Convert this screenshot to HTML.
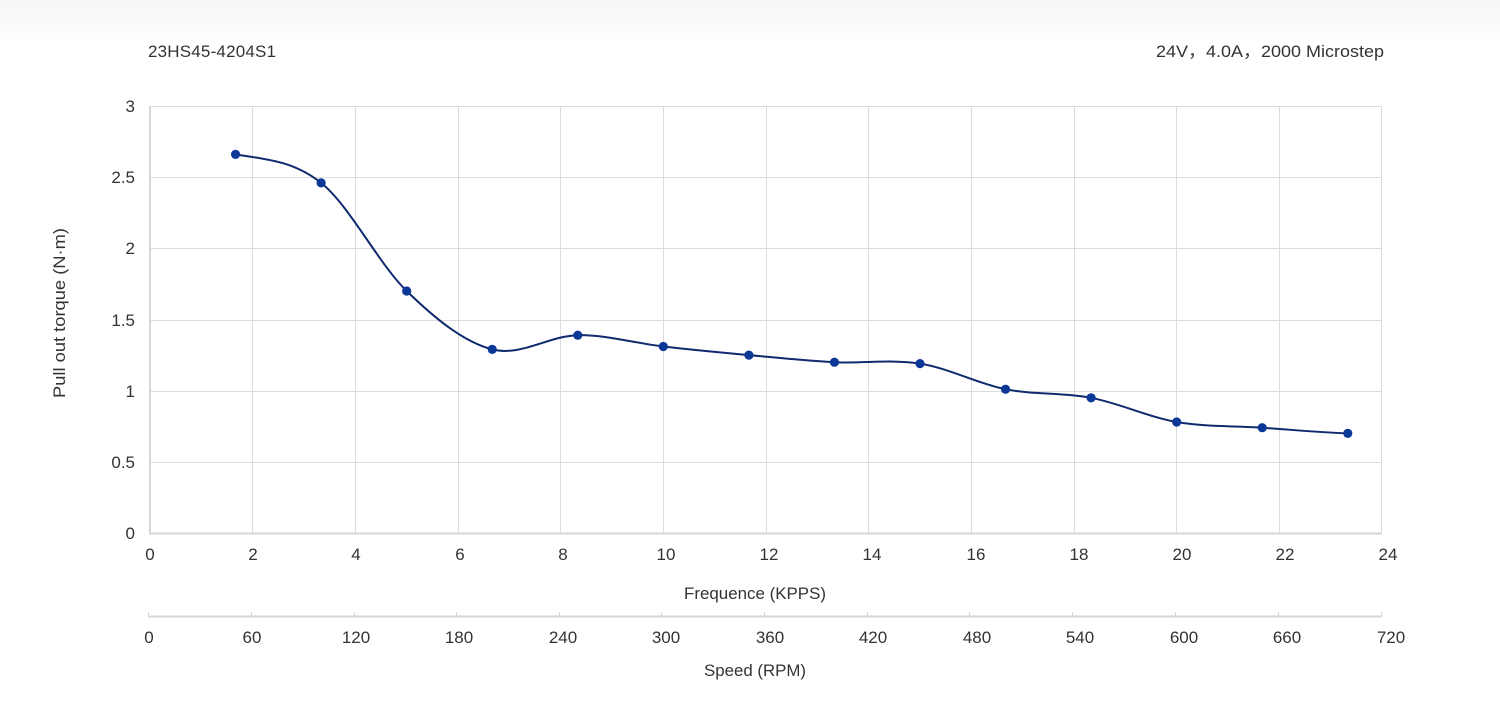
<!DOCTYPE html>
<html><head><meta charset="utf-8"><style>
html,body{margin:0;padding:0;background:#fff;}
body{width:1500px;height:707px;overflow:hidden;}
svg{display:block;font-family:"Liberation Sans","Noto Sans CJK SC",sans-serif;}
</style></head><body>
<svg width="1500" height="707" viewBox="0 0 1500 707" xmlns="http://www.w3.org/2000/svg">
<defs><linearGradient id="tb" x1="0" y1="0" x2="0" y2="1">
<stop offset="0" stop-color="#f6f6f6"/><stop offset="0.6" stop-color="#fafafa"/><stop offset="1" stop-color="#ffffff"/></linearGradient></defs>
<rect x="0" y="0" width="1500" height="38" fill="url(#tb)"/>
<g fill="#333" font-size="17">
<text x="148" y="57" textLength="128" lengthAdjust="spacing">23HS45-4204S1</text>
<text x="1156" y="57" textLength="228" lengthAdjust="spacingAndGlyphs">24V，4.0A，2000 Microstep</text>
</g>
<!-- grid -->
<g stroke="#dcdcdc" stroke-width="1" fill="none">
<line x1="150" y1="106.5" x2="1382" y2="106.5"/>
<line x1="150" y1="177.5" x2="1382" y2="177.5"/>
<line x1="150" y1="248.5" x2="1382" y2="248.5"/>
<line x1="150" y1="320.5" x2="1382" y2="320.5"/>
<line x1="150" y1="391.5" x2="1382" y2="391.5"/>
<line x1="150" y1="462.5" x2="1382" y2="462.5"/>
<line x1="252.5" y1="106" x2="252.5" y2="534"/>
<line x1="355.5" y1="106" x2="355.5" y2="534"/>
<line x1="458.5" y1="106" x2="458.5" y2="534"/>
<line x1="560.5" y1="106" x2="560.5" y2="534"/>
<line x1="663.5" y1="106" x2="663.5" y2="534"/>
<line x1="766.5" y1="106" x2="766.5" y2="534"/>
<line x1="868.5" y1="106" x2="868.5" y2="534"/>
<line x1="971.5" y1="106" x2="971.5" y2="534"/>
<line x1="1074.5" y1="106" x2="1074.5" y2="534"/>
<line x1="1176.5" y1="106" x2="1176.5" y2="534"/>
<line x1="1279.5" y1="106" x2="1279.5" y2="534"/>
<line x1="1381.5" y1="106" x2="1381.5" y2="534"/>
</g>
<g stroke="#d6d6d6" stroke-width="2" fill="none">
<line x1="150" y1="106" x2="150" y2="534"/>
<line x1="149" y1="533.5" x2="1382" y2="533.5"/>
<line x1="148" y1="616.5" x2="1382" y2="616.5"/>
</g>
<g stroke="#d6d6d6" stroke-width="1">
<line x1="148.5" y1="612" x2="148.5" y2="617"/>
<line x1="251.5" y1="612" x2="251.5" y2="617"/>
<line x1="354.5" y1="612" x2="354.5" y2="617"/>
<line x1="456.5" y1="612" x2="456.5" y2="617"/>
<line x1="559.5" y1="612" x2="559.5" y2="617"/>
<line x1="661.5" y1="612" x2="661.5" y2="617"/>
<line x1="764.5" y1="612" x2="764.5" y2="617"/>
<line x1="867.5" y1="612" x2="867.5" y2="617"/>
<line x1="969.5" y1="612" x2="969.5" y2="617"/>
<line x1="1072.5" y1="612" x2="1072.5" y2="617"/>
<line x1="1175.5" y1="612" x2="1175.5" y2="617"/>
<line x1="1278.5" y1="612" x2="1278.5" y2="617"/>
<line x1="1381.5" y1="612" x2="1381.5" y2="617"/>
</g>
<!-- y labels -->
<g fill="#333" font-size="17" text-anchor="end">
<text x="135" y="112">3</text>
<text x="135" y="183">2.5</text>
<text x="135" y="254">2</text>
<text x="135" y="326">1.5</text>
<text x="135" y="397">1</text>
<text x="135" y="468">0.5</text>
<text x="135" y="539">0</text>
</g>
<text transform="translate(65,313) rotate(-90)" fill="#333" font-size="17" text-anchor="middle" textLength="170" lengthAdjust="spacingAndGlyphs">Pull out torque (N·m)</text>
<!-- x labels -->
<g fill="#333" font-size="17" text-anchor="middle">
<text x="150" y="560">0</text>
<text x="253" y="560">2</text>
<text x="356" y="560">4</text>
<text x="460" y="560">6</text>
<text x="563" y="560">8</text>
<text x="666" y="560">10</text>
<text x="769" y="560">12</text>
<text x="872" y="560">14</text>
<text x="976" y="560">16</text>
<text x="1079" y="560">18</text>
<text x="1182" y="560">20</text>
<text x="1285" y="560">22</text>
<text x="1388" y="560">24</text>
<text x="755" y="599" textLength="142" lengthAdjust="spacingAndGlyphs">Frequence (KPPS)</text>
<text x="149" y="643">0</text>
<text x="252" y="643">60</text>
<text x="356" y="643">120</text>
<text x="459" y="643">180</text>
<text x="563" y="643">240</text>
<text x="666" y="643">300</text>
<text x="770" y="643">360</text>
<text x="873" y="643">420</text>
<text x="977" y="643">480</text>
<text x="1080" y="643">540</text>
<text x="1184" y="643">600</text>
<text x="1287" y="643">660</text>
<text x="1391" y="643">720</text>
<text x="755" y="676" textLength="102" lengthAdjust="spacingAndGlyphs">Speed (RPM)</text>
</g>
<!-- series -->
<path fill="none" stroke="#0f2a6e" stroke-width="2" d="M235.56,154.4 C264.08,159.15 292.59,160.13 321.11,182.9 C349.63,205.67 378.15,263.25 406.67,291.0 C435.19,318.75 463.70,342.03 492.22,349.4 C520.74,356.77 549.26,335.68 577.78,335.2 C606.30,334.72 634.81,343.18 663.33,346.5 C691.85,349.82 720.37,352.48 748.89,355.1 C777.41,357.72 805.92,360.78 834.44,362.2 C862.96,363.62 891.48,359.1 920,363.6 C948.52,368.1 977.04,383.5 1005.56,389.2 C1034.08,394.9 1062.59,392.33 1091.11,397.8 C1119.63,403.27 1148.15,417.02 1176.67,422.0 C1205.19,426.98 1233.70,425.8 1262.22,427.7 C1290.74,429.6 1319.26,432.45 1347.78,433.4"/>
<g fill="#0b3796">
<circle cx="235.56" cy="154.4" r="4.6"/>
<circle cx="321.11" cy="182.9" r="4.6"/>
<circle cx="406.67" cy="291.0" r="4.6"/>
<circle cx="492.22" cy="349.4" r="4.6"/>
<circle cx="577.78" cy="335.2" r="4.6"/>
<circle cx="663.33" cy="346.5" r="4.6"/>
<circle cx="748.89" cy="355.1" r="4.6"/>
<circle cx="834.44" cy="362.2" r="4.6"/>
<circle cx="920" cy="363.6" r="4.6"/>
<circle cx="1005.56" cy="389.2" r="4.6"/>
<circle cx="1091.11" cy="397.8" r="4.6"/>
<circle cx="1176.67" cy="422.0" r="4.6"/>
<circle cx="1262.22" cy="427.7" r="4.6"/>
<circle cx="1347.78" cy="433.4" r="4.6"/>
</g>
</svg>
</body></html>
